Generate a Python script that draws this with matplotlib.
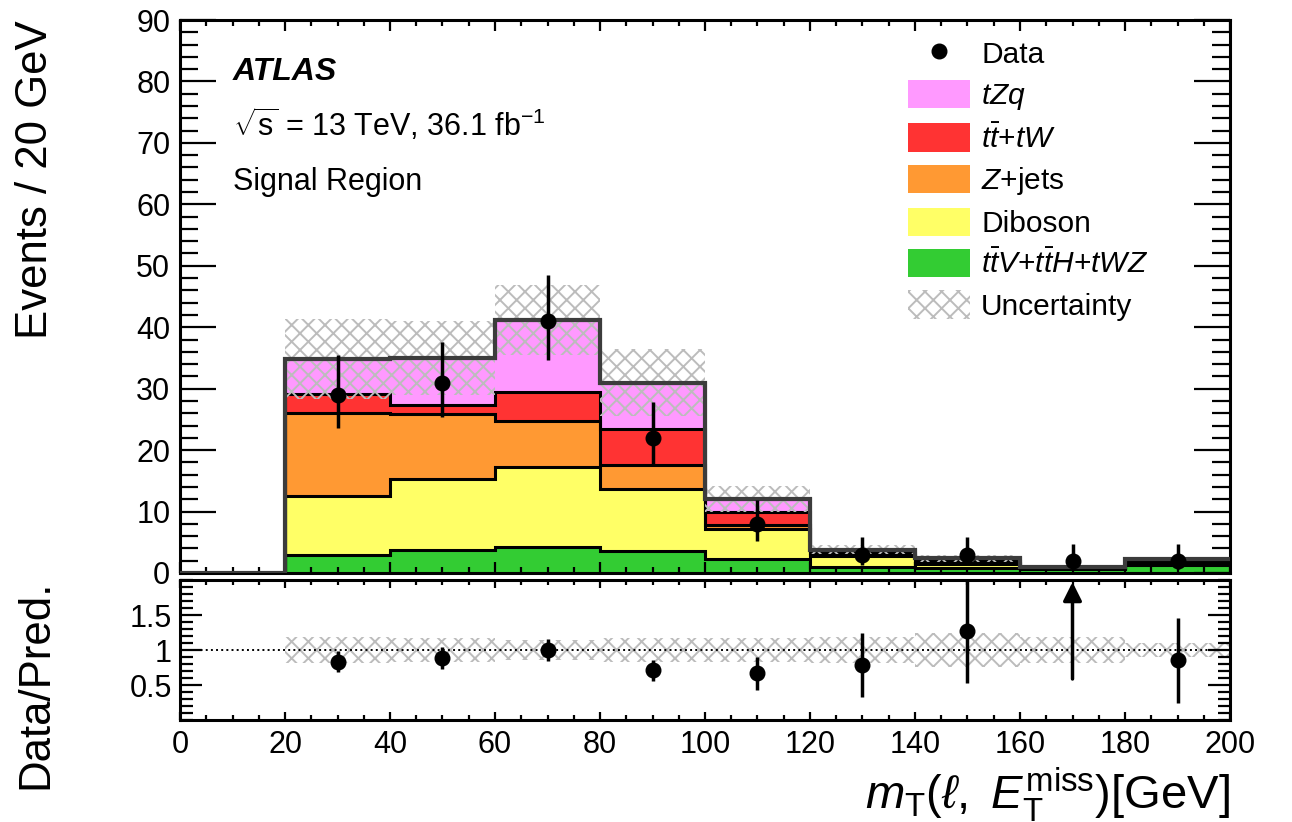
import numpy as np
import matplotlib.pyplot as plt
from matplotlib.patches import Patch
from matplotlib.lines import Line2D
from matplotlib.ticker import MultipleLocator, FixedLocator

plt.rcParams['font.family'] = ['Liberation Sans', 'DejaVu Sans']
plt.rcParams['mathtext.fontset'] = 'custom'
plt.rcParams['mathtext.rm'] = 'Liberation Sans'
plt.rcParams['mathtext.it'] = 'Liberation Sans:italic'
plt.rcParams['mathtext.bf'] = 'Liberation Sans:bold'
plt.rcParams['hatch.linewidth'] = 1.4

# mT(l, MET) binning, 20 GeV bins
edges = np.arange(0, 220, 20)
centers = 0.5 * (edges[:-1] + edges[1:])

data = np.array([0, 29, 31, 41, 22, 8, 3, 3, 2, 2])
# asymmetric Poisson (Garwood) intervals for the data points
data_err_lo = np.array([0, 5.35, 5.53, 6.37, 4.65, 2.77, 1.63, 1.63, 1.29, 1.29])
data_err_hi = np.array([0, 6.45, 6.63, 7.46, 5.77, 3.95, 2.92, 2.92, 2.64, 2.64])

# backgrounds + signal, stacked bottom to top
ttv = np.array([0, 2.9, 3.8, 4.3, 3.6, 2.2, 1.0, 0.8, 0.6, 1.3])
diboson = np.array([0, 9.7, 11.5, 13.0, 10.1, 4.9, 1.7, 0.7, 0.2, 0.55])
zjets = np.array([0, 13.4, 10.6, 7.5, 3.9, 0.7, 0.2, 0.1, 0.0, 0.05])
ttbar = np.array([0, 3.1, 1.4, 4.7, 5.9, 2.2, 0.4, 0.3, 0.05, 0.15])
tzq = np.array([0, 5.7, 7.7, 11.7, 7.5, 2.0, 0.5, 0.47, 0.15, 0.3])
unc = np.array([0, 6.5, 6.0, 5.7, 5.5, 2.1, 0.72, 0.56, 0.18, 0.22])

samples = [
    (ttv, '#33cc33', r'$t\bar{t}V$+$t\bar{t}H$+$tWZ$'),
    (diboson, '#ffff66', 'Diboson'),
    (zjets, '#ff9933', r'$Z$+jets'),
    (ttbar, '#ff3333', r'$t\bar{t}$+$tW$'),
    (tzq, '#ff99ff', r'$tZq$'),
]

W, H = 1292, 822
fig = plt.figure(figsize=(W / 100, H / 100), dpi=100)
ax = fig.add_axes([180 / W, 1 - 573 / H, 1050 / W, 553 / H])
rax = fig.add_axes([180 / W, 1 - 720 / H, 1050 / W, 140 / H])

# cumulative stack, drawn top layer first like THStack
cums = np.cumsum([s[0] for s in samples], axis=0)
for cum, (_, col, _) in reversed(list(zip(cums, samples))):
    ax.stairs(cum, edges, baseline=0, fill=True, color=col, lw=0, zorder=1)
    ax.stairs(cum, edges, baseline=None, color='k', lw=2.2, zorder=2)

total = cums[-1]
grey = '#bcbcbc'
ax.stairs(total + unc, edges, baseline=total - unc, fill=True, facecolor='none',
          edgecolor=grey, hatch='xx', lw=0, zorder=3)
ax.stairs(total, edges, baseline=None, color='#3c3c3c', lw=3, zorder=4)

m = data > 0
ax.errorbar(centers[m], data[m], yerr=[data_err_lo[m], data_err_hi[m]], fmt='o',
            color='k', ms=10.5, elinewidth=2.5, capsize=0, zorder=5)

ax.set_xlim(0, 200)
ax.set_ylim(0, 90)

# ratio panel
nz = total > 0
rel = unc[nz] / total[nz]
rax.stairs(1 + rel, edges[1:], baseline=1 - rel, fill=True, facecolor='none',
           edgecolor=grey, hatch='xx', lw=0, zorder=1)
rax.axhline(1, color='k', ls=':', lw=1.4, zorder=2)

rmax = 2.0
ratio = data[nz] / total[nz]
rerr = np.sqrt(data[nz]) / total[nz]
rc = centers[nz]
inside = ratio < rmax
rax.errorbar(rc[inside], ratio[inside], yerr=rerr[inside], fmt='o', color='k',
             ms=10.5, elinewidth=2.5, capsize=0, zorder=5)
for x, r, e in zip(rc[~inside], ratio[~inside], rerr[~inside]):
    rax.annotate('', xy=(x, rmax - 0.03), xytext=(x, r - e),
                 arrowprops=dict(arrowstyle='-|>', color='k', lw=2.5,
                                 mutation_scale=28, shrinkA=0, shrinkB=0))

rax.set_xlim(0, 200)
rax.set_ylim(0, rmax)

# ATLAS-style ticks
for a in (ax, rax):
    for s in a.spines.values():
        s.set_linewidth(2.2)
    a.tick_params(which='both', direction='in', top=True, right=True,
                  width=1.6, labelsize=22)
    a.xaxis.set_major_locator(MultipleLocator(20))
    a.xaxis.set_minor_locator(MultipleLocator(5))

ax.yaxis.set_major_locator(MultipleLocator(10))
ax.yaxis.set_minor_locator(MultipleLocator(2))
ax.tick_params(axis='y', which='major', length=26, pad=7)
ax.tick_params(axis='y', which='minor', length=13)
ax.tick_params(axis='x', which='major', length=8, labelbottom=False)
ax.tick_params(axis='x', which='minor', length=4.5)

rax.yaxis.set_major_locator(FixedLocator([0.5, 1, 1.5]))
rax.yaxis.set_minor_locator(MultipleLocator(0.1))
rax.set_yticklabels(['0.5', '1', '1.5'])
rax.tick_params(axis='y', which='major', length=16, pad=6)
rax.tick_params(axis='y', which='minor', length=9)
rax.tick_params(axis='x', which='major', length=6, pad=7)
rax.tick_params(axis='x', which='minor', length=3.5)

ax.set_ylabel('Events / 20 GeV', fontsize=31.5, loc='top')
ax.yaxis.set_label_coords(-0.118, 1.0)
rax.set_ylabel('Data/Pred.', fontsize=31.5, loc='top')
rax.yaxis.set_label_coords(-0.118, 1.0)
rax.set_xlabel(r'$m_{\mathrm{T}}(\ell,\ E_{\mathrm{T}}^{\mathrm{miss}})$[GeV]',
               fontsize=34, loc='right')
rax.xaxis.set_label_coords(1.0, -0.33)

ax.text(0.0505, 0.8915, 'ATLAS', transform=ax.transAxes, fontsize=23,
        fontweight='bold', fontstyle='italic', va='baseline')
ax.text(0.0505, 0.790, r'$\sqrt{\mathrm{s}}$ = 13 TeV, 36.1 fb$^{-1}$',
        transform=ax.transAxes, fontsize=22, va='baseline')
ax.text(0.0505, 0.6926, 'Signal Region', transform=ax.transAxes, fontsize=22,
        va='baseline')

handles = [Line2D([], [], ls='none', marker='o', color='k', ms=10.5)]
labels = ['Data']
for vals, col, lab in reversed(samples):
    handles.append(Patch(facecolor=col, edgecolor='none'))
    labels.append(lab)
handles.append(Patch(facecolor='none', edgecolor=grey, hatch='xx', lw=0))
labels.append('Uncertainty')
fs = 21.5 * 100 / 72
ax.legend(handles, labels, loc='upper left', frameon=False, fontsize=21.5,
          bbox_to_anchor=(908 / W, 1 - 39 / H), bbox_transform=fig.transFigure,
          borderpad=0, borderaxespad=0, handlelength=62 / fs,
          handleheight=32 / fs, handletextpad=11 / fs, labelspacing=11 / fs)

fig.savefig('out.png', dpi=100)
